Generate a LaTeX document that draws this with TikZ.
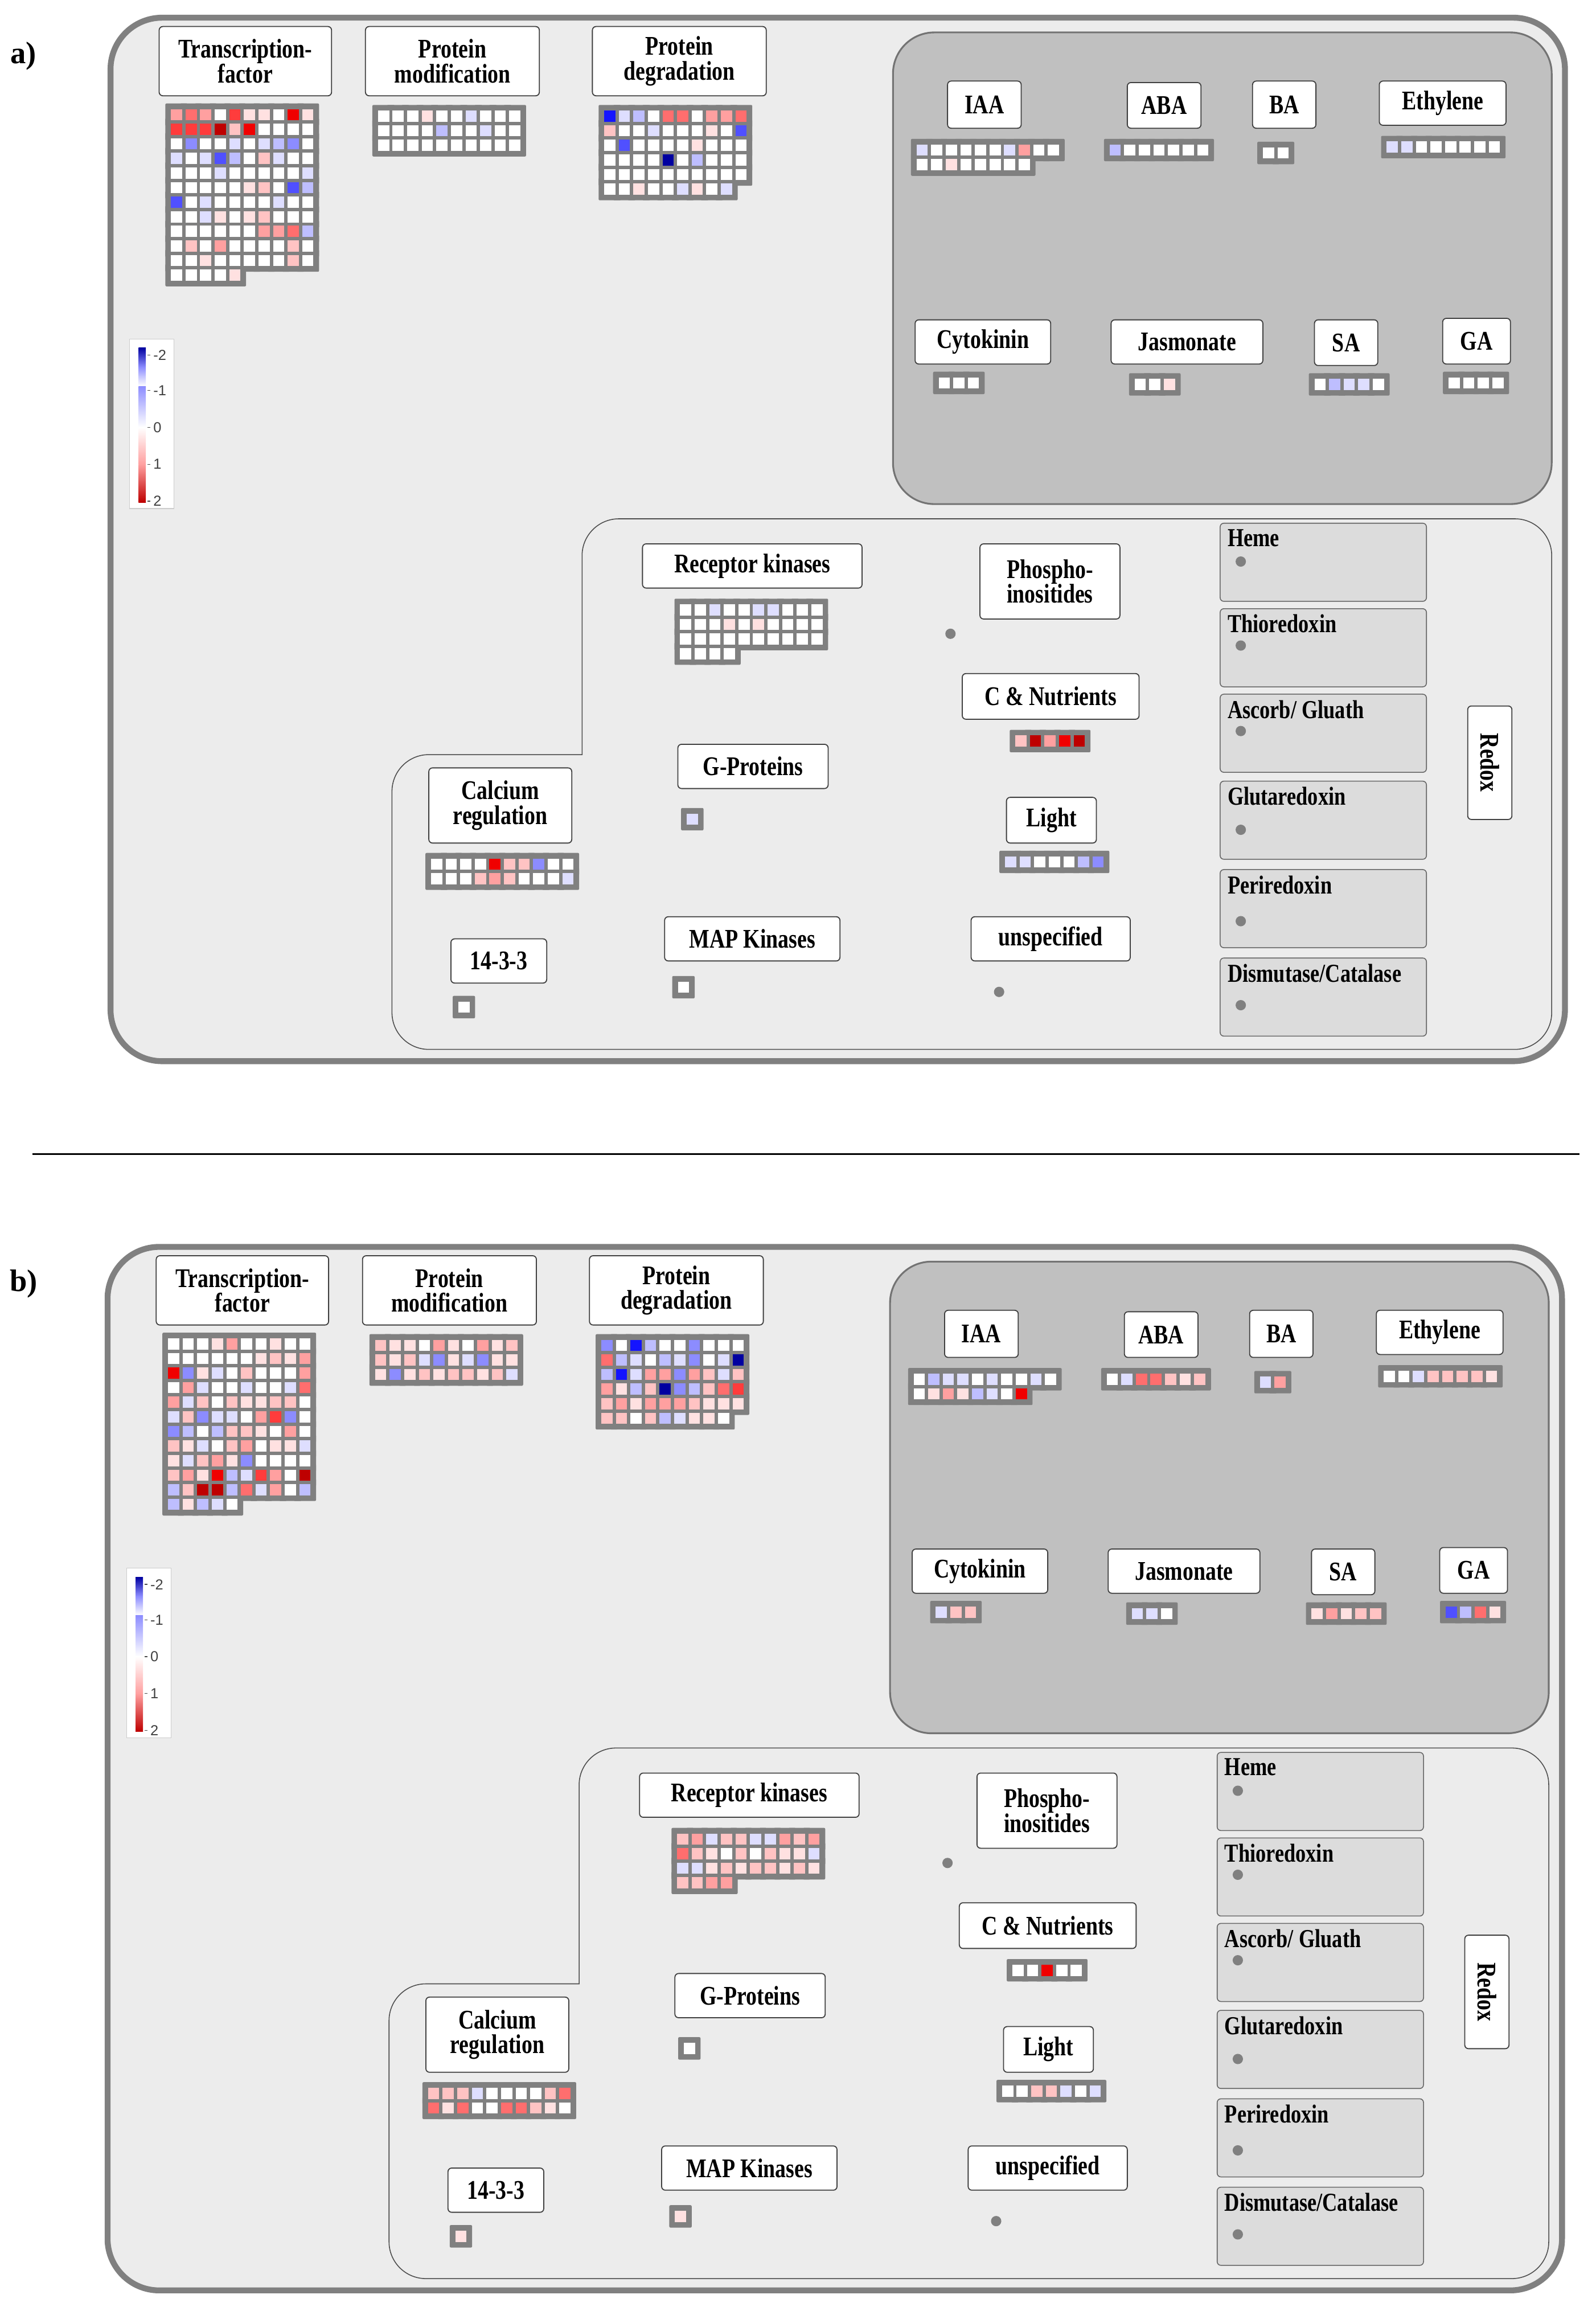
\documentclass[tikz,border=0pt]{standalone}
\usepackage{fontspec}
\setmainfont{Liberation Serif}
\newfontfamily\labfont{Liberation Serif}[FakeStretch=0.8]
\newfontfamily\sansf{Liberation Sans}
\definecolor{w}{RGB}{255,255,255}
\definecolor{b1}{RGB}{222,222,255}
\definecolor{b2}{RGB}{190,190,255}
\definecolor{b3}{RGB}{140,140,255}
\definecolor{b4}{RGB}{80,80,255}
\definecolor{b5}{RGB}{20,20,255}
\definecolor{b6}{RGB}{0,0,160}
\definecolor{r1}{RGB}{255,225,225}
\definecolor{r2}{RGB}{255,195,195}
\definecolor{r3}{RGB}{255,160,160}
\definecolor{r4}{RGB}{255,110,110}
\definecolor{r5}{RGB}{255,60,60}
\definecolor{r6}{RGB}{240,0,0}
\definecolor{r7}{RGB}{190,0,0}
\definecolor{hmgray}{RGB}{128,128,128}
\definecolor{bgl}{RGB}{236,236,236}
\definecolor{bgd}{RGB}{192,192,192}
\definecolor{redoxf}{RGB}{220,220,220}
\tikzset{
  lab/.style={draw=black!75,line width=0.7mm,fill=white,rounded corners=2.5mm,inner sep=0pt,align=center,font=\labfont\bfseries\fontsize{52}{48}\selectfont},
  rbox/.style={draw=black!60,line width=0.6mm,fill=redoxf,rounded corners=2.5mm},
  rtxt/.style={anchor=north west,inner sep=0pt,font=\labfont\bfseries\fontsize{50}{48}\selectfont},
  dot/.style={circle,fill=hmgray,inner sep=0pt,minimum size=7mm},
}
\newcommand\hm[4]{%
  \foreach \c [count=\i from 0] in {#4} {%
    \pgfmathtruncatemacro\cx{mod(\i,#3)}\pgfmathtruncatemacro\cy{div(\i,#3)}%
    \fill[hmgray,rounded corners=0.8mm] (#1+\cx*9.9-3.8,#2+\cy*9.9-3.8) rectangle ++(15.2,15.2);}
  \foreach \c [count=\i from 0] in {#4} {%
    \pgfmathtruncatemacro\cx{mod(\i,#3)}\pgfmathtruncatemacro\cy{div(\i,#3)}%
    \fill[\c] (#1+\cx*9.9,#2+\cy*9.9) rectangle ++(7.6,7.6);}
}
\newcommand\lab[6]{%
  \pgfmathsetmacro\lw{#4-#2}\pgfmathsetmacro\lh{#5-#3}%
  \node[lab,minimum width=\lw mm,minimum height=\lh mm] (#1) at ({(#2+#4)/2},{(#3+#5)/2}) {#6};}
\newcommand\rdx[4]{% name y1 text dotdy
  \draw[rbox] (828,#2) rectangle (968,#2+53);
  \node[rtxt] (#1) at (833,#2+4) {#3};
  \node[dot] (#1d) at (842,#2+#4) {};}
\newcommand\panelframe[1]{%
  \draw[line width=4mm,draw=black!50,fill=bgl,rounded corners=35mm] (75,12) rectangle (1062,720);
  \draw[line width=1.2mm,draw=black!55,fill=bgd,rounded corners=28mm] (606,22) rectangle (1053,342);
  \draw[line width=0.6mm,draw=black!70,fill=bgl] (395,512) -- (395,377) [rounded corners=25mm] -- (395,352) -- (1053,352) -- (1053,712) -- (266,712) -- (266,512) [sharp corners] -- (300,512) -- cycle;
  \lab{tf#1}{108}{18}{225}{65}{Transcription-\\factor}
  \lab{pm#1}{248}{18}{366}{65}{Protein\\modification}
  \lab{pd#1}{402}{18}{520}{65}{Protein\\degradation}
  \lab{iaa#1}{643}{55}{693}{87}{IAA}
  \lab{aba#1}{765}{56}{815}{87}{ABA}
  \lab{ba#1}{850}{55}{893}{87}{BA}
  \lab{eth#1}{936}{55}{1022}{85}{Ethylene}
  \lab{cyt#1}{621}{217}{713}{247}{Cytokinin}
  \lab{jas#1}{754}{217}{857}{247}{Jasmonate}
  \lab{sa#1}{892}{217}{935}{248}{SA}
  \lab{ga#1}{979}{216}{1025}{247}{GA}
  \lab{rk#1}{436}{369}{585}{399}{Receptor kinases}
  \lab{ph#1}{665}{369}{760}{420}{Phospho-\\inositides}
  \lab{cn#1}{653}{457}{773}{488}{C \& Nutrients}
  \lab{gp#1}{460}{505}{562}{535}{G-Proteins}
  \lab{li#1}{683}{541}{744}{572}{Light}
  \lab{ca#1}{291}{521}{388}{572}{Calcium\\regulation}
  \lab{map#1}{451}{622}{570}{652}{MAP Kinases}
  \lab{un#1}{659}{622}{767}{652}{unspecified}
  \lab{tt#1}{306}{637}{371}{667}{14-3-3}
  \node[dot] (phd#1) at (645,430) {};
  \node[dot] (und#1) at (678,673) {};
  \rdx{heme#1}{355}{Heme}{26}
  \rdx{thio#1}{413}{Thioredoxin}{25}
  \rdx{asc#1}{471}{Ascorb/ Gluath}{25}
  \rdx{glu#1}{530}{Glutaredoxin}{33}
  \rdx{per#1}{590}{Periredoxin}{35}
  \rdx{dis#1}{650}{Dismutase/Catalase}{32}
  \node[lab,minimum width=30mm,minimum height=77mm] (redox#1) at (1011,517.5) {};
  \node[rotate=-90,font=\labfont\bfseries\fontsize{52}{48}\selectfont] (redoxt#1) at (1011,517.5) {Redox};
  \draw[draw=black!20,line width=0.5mm,fill=white] (88,230) rectangle (118,345);
  \shade[top color=b6,bottom color=w,middle color=b3,shading angle=0] (94,236) rectangle (99,262);
  \shade[top color=b3,bottom color=w] (94,262) rectangle (99,290);
  \shade[top color=w,bottom color=r3] (94,290) rectangle (99,315);
  \shade[top color=r3,bottom color=r7] (94,315) rectangle (99,341);
  \foreach \v/\yy in {-2/241,-1/265,0/290,1/315,2/340} {
    \draw[line width=0.5mm,black!70] (100,\yy) -- (102,\yy);
    \node[font=\sansf\fontsize{28}{28}\selectfont,text=black!75,anchor=west,inner sep=0pt] (leg#1\yy) at (104,\yy) {\v};}
}
\begin{document}
\begin{tikzpicture}[x=1mm,y=-1mm]
\useasboundingbox[fill=white] (0,0) rectangle (1083,1568);
\node[font=\bfseries\fontsize{60}{60}\selectfont] (la) at (16,38) {a)};
\node[font=\bfseries\fontsize{60}{60}\selectfont] (lb) at (16,871) {b)};
\coordinate (s1) at (22,783); \coordinate (s2) at (1072,783);
\draw[line width=0.9mm] (s1) -- (s2);
% ---------- panel a
\begin{scope}
\panelframe{a}
\hm{116}{74}{10}{r3,r4,r3,w,r5,r1,r1,w,r6,r1, r5,r5,r5,r7,r2,r6,w,w,w,w, w,b3,w,w,b1,w,b1,b2,b3,w, b1,w,b1,b4,b2,w,r2,b1,w,w, w,w,w,b1,w,w,w,w,w,b1, w,w,w,w,w,r1,r2,w,b4,b2, b4,w,b1,w,w,w,w,b1,w,w, w,w,b1,r1,w,r1,r2,w,w,w, w,w,w,w,w,w,r3,r3,r4,b2, w,r2,w,r3,w,w,w,w,r2,w, w,w,r1,w,w,w,w,w,r2,w, w,w,w,w,r1}
\hm{256.5}{75}{10}{w,w,w,r1,w,w,b1,w,w,w, w,w,w,w,b2,w,w,b1,w,w, w,w,w,w,w,w,w,w,w,w}
\hm{410}{75}{10}{b5,b1,b2,w,r4,r4,w,r3,r3,r4, r2,w,w,b1,w,w,w,r1,w,b4, w,b4,w,w,w,w,r1,w,w,w, w,w,w,w,b6,w,b2,w,w,w, w,w,w,w,w,w,w,w,w,w, w,w,r1,w,w,b1,r1,w,b1}
\hm{622}{98}{10}{b1,w,w,w,w,w,b1,r3,w,w, w,w,r1,w,w,w,w,w}
\hm{753}{98}{7}{b2,w,w,w,w,w,w}
\hm{857}{100}{2}{w,w}
\hm{941}{96}{8}{b1,b1,w,w,w,w,w,w}
\hm{637}{256}{3}{w,w,w}
\hm{770}{257}{3}{w,w,r1}
\hm{892}{257}{5}{w,b2,b1,b1,w}
\hm{983}{256}{4}{w,w,w,w}
\hm{461.5}{410}{10}{w,w,b1,w,w,b1,b1,w,w,w, w,w,w,r1,w,r1,w,w,w,w, w,w,w,w,w,w,w,w,w,w, w,w,w,w}
\hm{689}{499}{5}{r2,r7,r3,r6,r7}
\hm{466}{552}{1}{b1}
\hm{682}{581}{7}{b1,b1,w,w,w,b2,b3}
\hm{292.5}{582.5}{10}{w,w,w,w,r6,r2,r2,b3,w,w, w,w,w,r2,r3,r2,w,w,w,b1}
\hm{460}{666}{1}{w}
\hm{311}{679.5}{1}{w}
\end{scope}
% ---------- panel b
\begin{scope}[shift={(-2,834)}]
\panelframe{b}
\hm{116}{74}{10}{w,w,w,r1,r3,w,w,r1,w,w, w,w,w,w,w,w,r1,r2,r1,r3, r6,b3,r1,b1,w,r2,w,w,w,r3, w,r3,b1,w,w,b1,w,w,b1,r4, r3,b1,r2,w,r2,r1,r1,r2,r2,w, b1,r2,b3,b1,b1,w,r3,r5,b3,w, b3,b2,w,b2,r2,r2,r1,w,r3,w, r2,r1,b1,w,r2,r3,w,r1,r1,b1, r1,b1,r2,r3,r1,b3,w,w,w,w, r2,r3,r1,r6,b2,b1,r5,r3,w,r7, b2,r2,r7,r7,b2,r4,b1,r3,w,b2, b2,r1,b2,b1,w}
\hm{256.5}{75}{10}{r2,r1,r1,w,r3,r1,w,r3,r1,r2, r2,r1,r2,b1,b3,r1,b1,b3,r1,r1, r1,b3,r1,r2,r1,r2,r2,r1,r2,b1}
\hm{410}{75}{10}{b3,w,b5,b2,w,w,b3,w,w,w, r4,b2,b1,w,b2,b1,b3,w,b1,b6, b2,b5,b1,r3,r3,b3,r3,r2,b1,r2, r3,r1,b2,r2,b6,b3,b2,r2,r4,r5, r2,r3,r1,r3,r3,r3,r2,r1,r1,r1, r2,r2,w,r2,b2,b1,r1,r1,w}
\hm{622}{98}{10}{w,b2,b1,b1,w,b1,w,w,b1,w, w,r1,r3,r1,b2,b1,w,r6}
\hm{753}{98}{7}{w,b1,r4,r4,r2,r1,r2}
\hm{857}{100}{2}{b1,r3}
\hm{941}{96}{8}{w,w,b1,r2,r2,r2,r2,r1}
\hm{637}{256}{3}{b1,r2,r2}
\hm{770}{257}{3}{b1,b1,w}
\hm{892}{257}{5}{r1,r3,r1,r2,r2}
\hm{983}{256}{4}{b4,b2,r4,r1}
\hm{461.5}{410}{10}{r2,r3,b1,r2,r2,b1,b1,r3,r2,r3, r4,r2,r1,w,r2,w,r2,r1,r1,b1, b1,b1,r1,r2,r1,r2,r2,r1,r2,r1, r2,r2,r3,r3}
\hm{689}{499}{5}{w,w,r6,w,w}
\hm{466}{552}{1}{w}
\hm{682}{581}{7}{w,w,r2,r2,b1,w,b1}
\hm{292.5}{582.5}{10}{r2,r2,r2,b1,w,w,w,w,r2,r4, r4,r1,r4,w,w,r4,r4,r2,r1,w}
\hm{460}{666}{1}{r1}
\hm{311}{679.5}{1}{r1}
\end{scope}
\end{tikzpicture}
\end{document}
